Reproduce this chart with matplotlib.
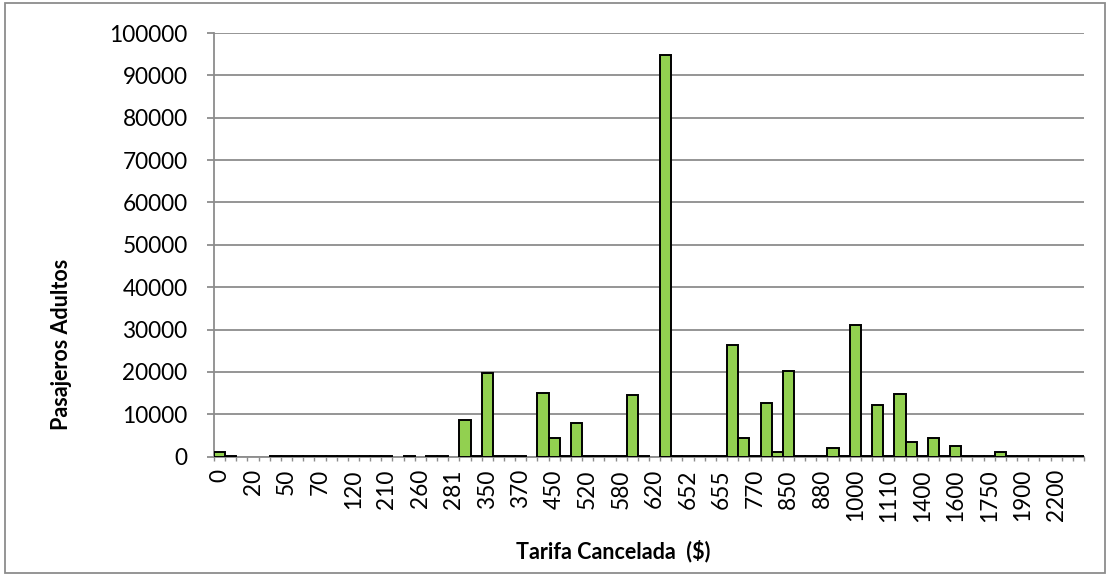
import numpy as np
import matplotlib.pyplot as plt
from matplotlib.patches import Rectangle

# Etiquetas visibles del eje x (una de cada tres tarifas)
etiquetas = ["0", "20", "50", "70", "120", "210", "260", "281", "350", "370",
             "450", "520", "580", "620", "652", "655", "770", "850", "880",
             "1000", "1110", "1400", "1600", "1750", "1900", "2200"]

# Pasajeros adultos por tarifa (nan = tarifa sin registros)
pasajeros = [1100, 250, np.nan, np.nan, np.nan,
             250, 250, 250, 250, 250, 250, 250, 250, 250, 250, 250,
             np.nan, 250, np.nan, 250, 250, np.nan,
             8600, 250, 19800, 250, 250, 250, np.nan,
             15100, 4300, 250, 8050, 250, 250, 250, 250,
             14600, 250, np.nan, 94800,
             250, 250, 250, 250, 250,
             26300, 4300, 250, 12700, 1100, 20300,
             250, 250, 250, 2000, 250, 31000,
             250, 12300, 250, 14700, 3400, 250, 4400, 250, 2600,
             250, 250, 250, 1100,
             250, 250, 250, 250, 250, 250, 250]

gris = "#8c8c8c"
verde = "#92d050"

plt.rcParams['font.family'] = ['Lato', 'DejaVu Sans']

fig = plt.figure(figsize=(11.1, 5.76), dpi=100)
ax = fig.add_axes([0.1928, 0.2071, 0.7838, 0.7356])

x = np.arange(len(pasajeros))
ax.bar(x, pasajeros, width=1.0, color=verde, edgecolor="black",
       linewidth=1.4, zorder=3)

ax.set_xlim(-0.5, len(pasajeros) - 0.5)
ax.set_ylim(0, 100000)
ax.set_yticks(np.arange(0, 100001, 10000))
ax.set_yticklabels([str(v) for v in range(0, 100001, 10000)])
ax.grid(axis="y", color=gris, linewidth=1.3, zorder=0)

ax.set_xticks(np.arange(0, len(pasajeros), 3))
ax.set_xticklabels(etiquetas, rotation=90)
ax.set_xticks(np.arange(-0.5, len(pasajeros), 1), minor=True)

ax.tick_params(axis="y", length=5, width=1.3, color=gris, pad=14, labelsize=16.3)
ax.tick_params(axis="x", which="major", length=0, pad=9, labelsize=16.3)
ax.tick_params(axis="x", which="minor", length=3, width=1, color=gris)

for lado in ["top", "right"]:
    ax.spines[lado].set_visible(False)
for lado in ["left", "bottom"]:
    ax.spines[lado].set_color(gris)
    ax.spines[lado].set_linewidth(1.3)

fig.text(613 / 1110, 1 - 551 / 576, "Tarifa Cancelada  ($)", fontsize=15.5,
         fontweight="bold", ha="center", va="center")
fig.text(61 / 1110, 1 - 344 / 576, "Pasajeros Adultos", fontsize=15.5,
         fontweight="bold", ha="center", va="center", rotation=90)

# Borde del área del gráfico
fig.patches.append(Rectangle((5 / 1110, 1 - 573 / 576), 1100 / 1110, 570 / 576,
                             transform=fig.transFigure, fill=False,
                             edgecolor=gris, linewidth=1.3))

plt.savefig("out.png", dpi=100)
